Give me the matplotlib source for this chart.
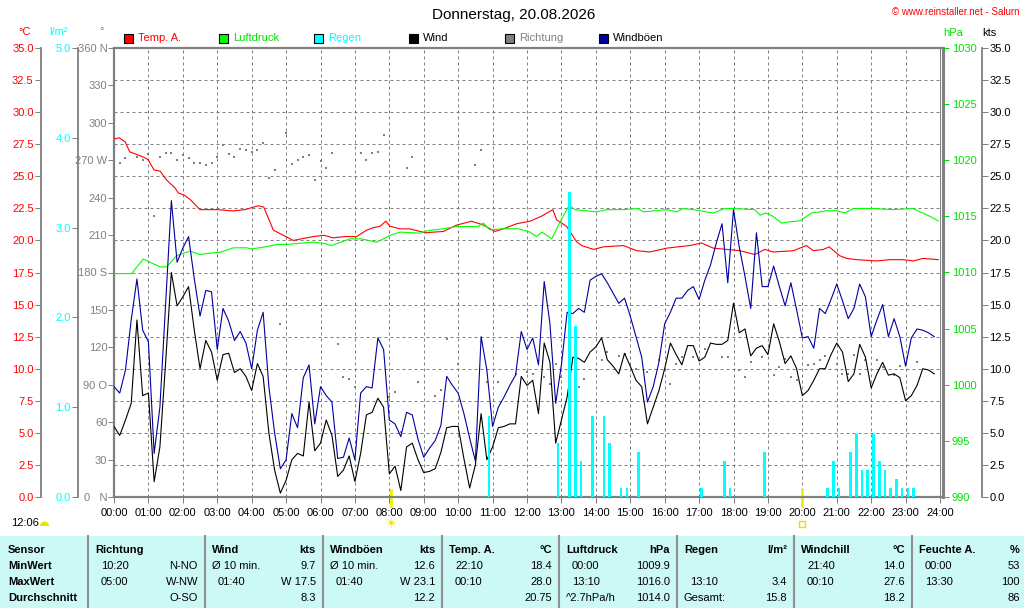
import numpy as np
import matplotlib
matplotlib.use("Agg")
import matplotlib.pyplot as plt
from matplotlib.patches import Rectangle, Wedge
from matplotlib.lines import Line2D
import matplotlib.transforms as mtransforms

plt.rcParams['font.family'] = ['Liberation Sans', 'DejaVu Sans']
plt.rcParams['font.size'] = 8

# ---------------- data ----------------
# 10-minute samples 00:00 .. 23:50
sample_hours = np.arange(144) / 6.0

wind_kts = [
    5.5, 4.8, 6.0, 7.3, 13.8, 7.9,
    8.1, 1.2, 3.9, 10.5, 17.5, 14.9,
    15.6, 16.4, 13.0, 10.0, 12.2, 11.3,
    9.1, 11.1, 11.2, 9.7, 10.0, 9.4,
    8.3, 10.4, 9.4, 5.0, 2.1, 0.3,
    1.3, 2.9, 3.4, 3.2, 7.4, 3.6,
    4.2, 6.0, 4.8, 1.6, 2.1, 3.2,
    1.2, 3.4, 6.4, 6.6, 7.7, 7.0,
    1.8, 2.4, 0.5, 3.9, 4.2, 2.9,
    1.9, 2.0, 2.2, 3.5, 5.4, 5.5,
    5.5, 3.0, 0.7, 2.5, 6.5, 2.9,
    3.9, 5.4, 5.5, 5.7, 5.7, 9.4,
    8.7, 9.1, 6.5, 12.0, 10.5, 4.2,
    6.0, 7.8, 10.9, 10.8, 10.5, 11.3,
    11.7, 12.4, 10.7, 10.2, 9.6, 11.2,
    10.2, 9.1, 8.6, 5.7, 7.0, 8.3,
    10.0, 12.0, 11.1, 10.3, 11.8, 11.8,
    10.6, 10.9, 12.0, 11.9, 11.9, 12.2,
    15.1, 12.8, 13.1, 11.0, 11.6, 11.8,
    11.1, 13.5, 12.1, 10.4, 11.0, 10.0,
    7.9, 8.3, 9.1, 10.0, 10.0, 11.1,
    12.0, 11.3, 9.0, 9.6, 11.9, 10.9,
    8.5, 9.6, 10.5, 9.5, 9.6, 9.3,
    7.5, 7.9, 8.7, 10.0, 9.9, 9.6,
]

gust_kts = [
    8.6, 8.1, 9.9, 13.8, 17.0, 13.0,
    12.1, 3.4, 7.0, 15.0, 23.1, 18.3,
    19.4, 20.3, 17.0, 14.1, 16.1, 16.0,
    11.5, 14.7, 13.7, 12.2, 12.9, 12.0,
    10.0, 13.0, 14.4, 8.6, 5.0, 2.2,
    2.9, 6.5, 5.4, 9.3, 10.3, 5.7,
    8.6, 7.9, 7.4, 3.0, 3.1, 4.6,
    2.9, 8.1, 8.6, 8.5, 12.4, 11.5,
    6.0, 5.7, 4.7, 6.6, 6.4, 4.5,
    3.1, 3.8, 4.4, 5.6, 9.4, 8.7,
    8.1, 6.5, 4.6, 2.8, 12.5, 9.9,
    5.5, 7.0, 7.8, 8.7, 9.5, 12.9,
    11.5, 12.4, 10.3, 16.8, 13.5, 7.3,
    10.3, 14.4, 14.3, 14.7, 14.4, 16.9,
    17.2, 17.4, 16.7, 15.9, 15.1, 15.5,
    14.1, 12.5, 10.9, 7.4, 8.6, 10.5,
    13.5, 14.4, 15.5, 15.5, 16.1, 16.4,
    15.4, 16.9, 18.1, 19.8, 21.3, 16.7,
    22.4, 19.5, 17.2, 14.7, 20.6, 16.4,
    16.4, 18.0, 16.4, 14.9, 16.7, 14.6,
    12.4, 12.5, 11.6, 14.7, 14.3, 15.4,
    16.6, 15.3, 13.9, 14.7, 16.6, 15.6,
    12.5, 13.8, 15.0, 12.5, 13.9, 12.5,
    10.2, 12.4, 13.1, 13.0, 12.8, 12.5,
]

N = None
direction_deg = [
    N, 268, 272, N, 273, 270,
    275, 225, 273, 276, 276, 270,
    274, 272, 268, 268, 266, 268,
    273, 282, 275, 273, 279, 278,
    277, 278, 284, 256, 262, 139,
    292, 267, 270, 273, 274, 254,
    269, 264, 276, 123, 96, 95,
    88, 276, 270, 276, 277, 290,
    80, 84, 52, 264, 273, 92,
    N, N, 81, 86, 127, N,
    107, N, 26, 266, 278, 92,
    N, 92, N, N, 99, N,
    100, 99, N, 96, 91, 107,
    96, N, N, 88, 95, N,
    N, 110, 116, N, 113, 115,
    N, 103, N, 100, N, 110,
    N, 91, 107, 112, N, 112,
    N, 119, N, N, 112, 112,
    N, 102, 96, 108, N, 112,
    N, 98, 104, 111, 96, 94,
    N, 106, 107, 110, 113, N,
    107, 99, 99, 114, 99, 110,
    N, 110, 104, N, 98, 105,
    N, N, 108, N, N, N,
]

temp_hours = [0.0, 0.15, 0.32, 0.46, 0.66, 0.85, 0.99, 1.16, 1.34, 1.53, 1.77, 1.87, 2.06, 2.21,
              2.50, 3.0, 3.47, 3.8, 4.19, 4.35, 4.63, 4.92, 5.21, 5.4, 5.79, 6.1, 6.37, 6.7,
              7.05, 7.34, 7.55, 7.73, 7.9, 8.02, 8.31, 8.6, 9.04, 9.57, 9.96, 10.39, 10.73,
              11.07, 11.31, 11.70, 12.09, 12.43, 12.75, 12.86, 13.15, 13.44, 13.59, 13.93,
              14.22, 14.80, 15.19, 15.57, 16.06, 16.73, 17.07, 17.41, 17.80, 18.19, 18.62,
              18.91, 19.15, 19.74, 20.12, 20.32, 20.61, 20.78, 21.09, 21.29, 21.58, 22.16,
              22.54, 22.93, 23.22, 23.51, 23.95]
temp_c = [27.9, 28.0, 27.7, 26.9, 26.7, 26.5, 26.3, 25.5, 25.4, 24.7, 24.1, 23.7, 23.5, 23.2,
          22.4, 22.4, 22.3, 22.4, 22.7, 22.6, 20.8, 20.4, 20.0, 20.1, 20.3, 20.4, 20.2, 20.3,
          20.3, 20.8, 21.0, 21.1, 21.5, 21.1, 20.9, 20.9, 20.6, 20.7, 21.2, 21.5, 21.2,
          20.7, 20.9, 21.3, 21.5, 21.9, 22.4, 21.6, 21.1, 19.9, 19.6, 19.3,
          19.5, 19.6, 19.2, 19.1, 19.4, 19.6, 19.8, 19.4, 19.3, 19.2, 18.9,
          19.3, 19.1, 19.2, 19.6, 19.2, 19.3, 19.5, 18.8, 18.6, 18.5, 18.4,
          18.5, 18.5, 18.4, 18.6, 18.5]

pres_hours = [0.0, 0.51, 0.85, 1.34, 1.53, 1.82, 2.21, 2.50, 2.7, 3.08, 3.47, 3.86, 4.0, 4.44,
              4.73, 5.02, 5.4, 5.79, 6.08, 6.32, 6.86, 7.15, 7.34, 7.63, 8.02, 8.31, 8.89,
              9.08, 9.57, 9.96, 10.58, 10.73, 10.92, 11.31, 11.75, 12.09, 12.28, 12.43, 12.72,
              12.96, 13.23, 13.39, 14.02, 14.31, 14.80, 15.23, 15.38, 16.06, 16.35, 16.54,
              16.83, 17.41, 17.75, 17.99, 18.62, 18.77, 18.94, 19.15, 19.40, 19.59, 19.93,
              20.27, 20.71, 21.0, 21.24, 21.48, 22.06, 22.64, 23.22, 23.42, 23.71, 23.95]
pres_hpa = [1009.9, 1009.9, 1011.2, 1010.5, 1010.5, 1011.5, 1011.9, 1011.6, 1011.7, 1011.8,
            1012.2, 1012.2, 1012.1, 1012.3, 1012.5, 1012.5, 1012.6, 1012.7, 1012.6, 1012.4,
            1013.0, 1013.0, 1012.9, 1012.7, 1013.3, 1013.6, 1013.5, 1013.7, 1013.9, 1014.1,
            1014.1, 1014.4, 1013.8, 1013.9, 1013.9, 1013.6, 1013.2, 1013.6, 1013.0, 1014.5,
            1016.0, 1015.6, 1015.4, 1015.6, 1015.6, 1015.7, 1015.4, 1015.6, 1015.4, 1015.7,
            1015.6, 1015.3, 1015.7, 1015.7, 1015.6, 1015.1, 1015.3, 1015.0, 1014.4, 1014.5,
            1014.6, 1015.3, 1015.5, 1015.5, 1015.3, 1015.7, 1015.7, 1015.6, 1015.7, 1015.4,
            1015.0, 1014.6]

rain_times = ["10:50", "12:50", "13:10", "13:20", "13:30", "13:50", "14:10", "14:20", "14:40",
              "14:50", "15:10", "17:00", "17:40", "17:50", "18:50", "20:40", "20:50", "21:00",
              "21:20", "21:30", "21:40", "21:50", "22:00", "22:10", "22:20", "22:30", "22:40",
              "22:50", "23:00", "23:10"]
rain_lm2 = [0.9, 0.6, 3.4, 1.9, 0.4, 0.9, 0.9, 0.6, 0.1, 0.1, 0.5, 0.1, 0.4, 0.1, 0.5, 0.1,
            0.4, 0.1, 0.5, 0.7, 0.3, 0.3, 0.7, 0.4, 0.3, 0.1, 0.2, 0.1, 0.1, 0.1]

x_tick_labels = [f"{h:02d}:00" for h in range(25)]
temp_ticks = [0, 2.5, 5, 7.5, 10, 12.5, 15, 17.5, 20, 22.5, 25, 27.5, 30, 32.5, 35]
rain_ticks = [0, 1, 2, 3, 4, 5]
dir_ticks = [0, 30, 60, 90, 120, 150, 180, 210, 240, 270, 300, 330, 360]
dir_tick_labels = ["0   N", "30", "60", "90 O", "120", "150", "180 S", "210", "240",
                   "270 W", "300", "330", "360 N"]
pres_ticks = [990, 995, 1000, 1005, 1010, 1015, 1020, 1025, 1030]

sun_marks = [8.05, 20.0]

table_cols = [
    [("Sensor", ""), ("MinWert", ""), ("MaxWert", ""), ("Durchschnitt", "")],
    [("Richtung", ""), ("10:20", "N-NO"), ("05:00", "W-NW"), ("", "O-SO")],
    [("Wind", "kts"), ("Ø 10 min.", "9.7"), ("01:40", "W 17.5"), ("", "8.3")],
    [("Windböen", "kts"), ("Ø 10 min.", "12.6"), ("01:40", "W 23.1"), ("", "12.2")],
    [("Temp. A.", "°C"), ("22:10", "18.4"), ("00:10", "28.0"), ("", "20.75")],
    [("Luftdruck", "hPa"), ("00:00", "1009.9"), ("13:10", "1016.0"), ("^2.7hPa/h", "1014.0")],
    [("Regen", "l/m²"), ("", ""), ("13:10", "3.4"), ("Gesamt:", "15.8")],
    [("Windchill", "°C"), ("21:40", "14.0"), ("00:10", "27.6"), ("", "18.2")],
    [("Feuchte A.", "%"), ("00:00", "53"), ("13:30", "100"), ("", "86")],
]

legend_items = [("Temp. A.", "#ff0000", "#ff0000"), ("Luftdruck", "#00ff00", "#00e000"),
                ("Regen", "#00ffff", "#00ffff"), ("Wind", "#000000", "#000000"),
                ("Richtung", "#808080", "#808080"), ("Windböen", "#0000a0", "#000000")]

# ---------------- styling constants ----------------
W, H = 1024, 608
GREY = "#808080"
RED, GREEN, CYAN, NAVY = "#ff0000", "#00ff00", "#00ffff", "#0000a0"
PX = 0.72  # points per pixel


def fp(x, y):
    return (x / W, 1 - y / H)


fig = plt.figure(figsize=(W / 100, H / 100), dpi=100)
fig.patch.set_facecolor("white")

L, R, T, B = 114, 943, 48, 497
px_per_h = 826 / 24
ax = fig.add_axes([L / W, 1 - B / H, (R - L) / W, (B - T) / H])
ax.set_xlim(0, (R - L) / px_per_h)
ax.set_ylim(0, 35)
ax.set_facecolor("white")

# twin axes (order = drawing order)
ax_d = ax.twinx()
ax_t = ax.twinx()
ax_p = ax.twinx()
ax_k = ax.twinx()
ax_r = ax.twinx()

ax.set_xticks(range(25))
ax.set_xticklabels(x_tick_labels)
ax.set_yticks(np.arange(0, 35.01, 2.5))
ax.tick_params(axis="y", length=0, labelleft=False, labelright=False)
ax.tick_params(axis="x", length=6 * PX, width=PX, color=GREY, pad=3.5, labelsize=8,
               labelcolor="black")
ax.grid(True, color=GREY, lw=PX, ls=(0, (3, 3)))
for s in ["left", "top", "bottom"]:
    ax.spines[s].set_color(GREY)
    ax.spines[s].set_linewidth(1.6)
ax.spines["right"].set_color(GREY)
ax.spines["right"].set_linewidth(2.2)
ax.axvline(24, color=GREY, lw=PX)


def style_twin(a, side, offset_px, labelcolor, tickcolor=GREY, spine=True, pad=1.0):
    for s in a.spines.values():
        s.set_visible(False)
    sp = a.spines[side]
    sp.set_visible(spine)
    sp.set_position(("outward", offset_px * PX))
    sp.set_color(GREY)
    sp.set_linewidth(1.3)
    a.yaxis.set_ticks_position(side)
    a.tick_params(axis="y", direction="out", length=6 * PX, width=PX, color=tickcolor,
                  labelcolor=labelcolor, pad=pad, labelsize=8)
    a.grid(False)


# direction (grey squares)
ax_d.set_ylim(0, 360)
style_twin(ax_d, "left", 0, GREY, spine=False, pad=0.5)
ax_d.set_yticks(dir_ticks)
ax_d.set_yticklabels(dir_tick_labels)
dir_arr = np.array([np.nan if v is None else v for v in direction_deg], dtype=float)
ax_d.plot(sample_hours, dir_arr, ls="none", marker="s", ms=1.5, mew=0, color=GREY)

# temperature
ax_t.set_ylim(0, 35)
style_twin(ax_t, "left", 73, RED)
ax_t.set_yticks(temp_ticks)
ax_t.set_yticklabels([f"{v:.1f}" for v in temp_ticks])
ax_t.plot(temp_hours, temp_c, color=RED, lw=0.8)

# pressure
ax_p.set_ylim(990, 1030)
style_twin(ax_p, "right", 0, "#00e000", tickcolor="#00e000", spine=False, pad=2)
ax_p.set_yticks(pres_ticks)
ax_p.set_yticklabels([str(v) for v in pres_ticks])
ax_p.plot(pres_hours, pres_hpa, color=GREEN, lw=0.8)

# wind + gusts
ax_k.set_ylim(0, 35)
style_twin(ax_k, "right", 38.5, "black", pad=1.5)
ax_k.set_yticks(temp_ticks)
ax_k.set_yticklabels([f"{v:.1f}" for v in temp_ticks])
ax_k.plot(sample_hours, wind_kts, color="black", lw=0.8)
ax_k.plot(sample_hours, gust_kts, color=NAVY, lw=0.8)

# rain
ax_r.set_ylim(0, 5)
style_twin(ax_r, "left", 36.5, CYAN, pad=0.5)
ax_r.set_yticks(rain_ticks)
ax_r.set_yticklabels([f"{v:.1f}" for v in rain_ticks])
rain_h = np.array([int(t[:2]) + int(t[3:]) / 60 for t in rain_times])
ax_r.bar(rain_h + 0.03, rain_lm2, width=0.075, align="edge", color=CYAN, lw=0)

# ------------- header / titles -------------
fig.text(*fp(514, 15), "Donnerstag, 20.08.2026", ha="center", va="center", fontsize=11)
fig.text(*fp(1020, 12), "© www.reinstaller.net - Salurn", ha="right", va="center",
         fontsize=7, color=RED)
fig.text(*fp(25, 32), "°C", ha="center", va="center", color=RED, fontsize=8)
fig.text(*fp(59, 32), "l/m²", ha="center", va="center", color=CYAN, fontsize=8)
fig.text(*fp(102, 31), "°", ha="center", va="center", color=GREY, fontsize=8)
fig.text(*fp(953, 33), "hPa", ha="center", va="center", color="#00e000", fontsize=8)
fig.text(*fp(989, 33), "kts", ha="center", va="center", color="black", fontsize=8)

# legend row
leg_x = [124, 219, 314, 409, 505, 599]
for (label, fill, tcol), x0 in zip(legend_items, leg_x):
    fig.add_artist(Rectangle(fp(x0, 43), 9 / W, 9 / H, transform=fig.transFigure,
                             facecolor=fill, edgecolor="black", lw=0.8))
    fig.text(*fp(x0 + 14, 38), label, ha="left", va="center", color=tcol, fontsize=8)

# sun / day info
fig.text(*fp(11, 523), "12:06", ha="left", va="center", fontsize=8)
fig.add_artist(Wedge((44.5 / 100, (H - 526) / 100), 0.045, 0, 180,
                     transform=fig.dpi_scale_trans, facecolor="#f0e000", edgecolor="none"))
blend = mtransforms.blended_transform_factory(ax.transData, ax.transAxes)
for sx in sun_marks:
    ax.add_line(Line2D([sx, sx], [-0.02, 0.015], transform=blend, color="#f0f000",
                       lw=2, clip_on=False))
ax.text(sun_marks[0], -0.06, "☀", transform=blend, ha="center", va="center",
        color="#f5e000", fontsize=10, family="DejaVu Sans", clip_on=False)
ax.plot([sun_marks[1]], [-0.06], transform=blend, marker="s", ms=4, mfc="none",
        mec="#e8e000", mew=1, clip_on=False)

# ------------- bottom table -------------
fig.add_artist(Rectangle(fp(0, 608), 1, 72 / H, transform=fig.transFigure,
                         facecolor="#ccf8f5", edgecolor="none"))
col_x = [0, 88, 205, 323, 442, 559, 677, 794, 912, 1024]
for xs in col_x[1:-1]:
    fig.add_artist(Line2D([xs / W, xs / W], [fp(0, 536)[1], 0], transform=fig.transFigure,
                          color="#909090", lw=1.5))
row_y = [550, 566, 582, 598]
for ci, col in enumerate(table_cols):
    x0, x1 = col_x[ci], col_x[ci + 1]
    for ri, (left, right) in enumerate(col):
        bold = (ri == 0) or (ci == 0)
        if ci == 0:
            lx = 8
        elif ri == 0 or left in ("Ø 10 min.", "Gesamt:", "^2.7hPa/h"):
            lx = x0 + 7
        else:
            lx = x0 + 13
        if left:
            fig.text(*fp(lx, row_y[ri]), left, ha="left", va="center", fontsize=8,
                     fontweight="bold" if bold else "normal")
        if right:
            rx = x1 - 7 if ci < len(table_cols) - 1 else 1020
            fig.text(*fp(rx, row_y[ri]), right, ha="right", va="center", fontsize=8,
                     fontweight="bold" if ri == 0 else "normal")

fig.savefig("out.png", dpi=100, facecolor="white")
